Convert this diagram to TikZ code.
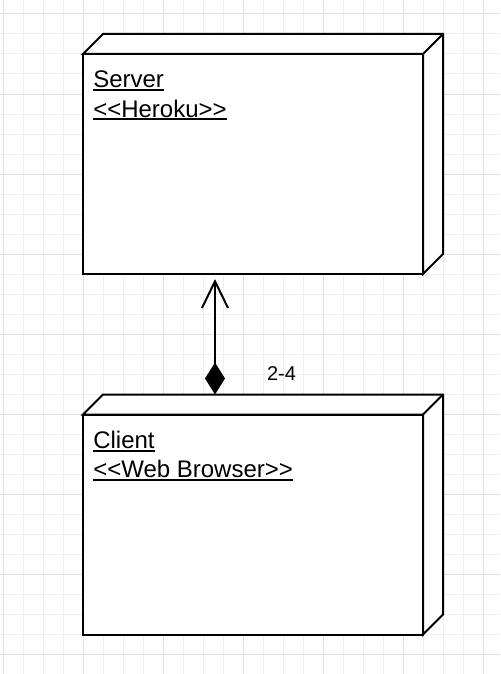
\documentclass[tikz,border=0pt]{standalone}
\usepackage{fontspec}
\setmainfont{Liberation Sans}
\usetikzlibrary{arrows.meta,calc}

\newcommand{\ulword}[1]{\setbox0\hbox{#1}\rlap{\rule[-2.25pt]{\wd0}{1.2pt}}\box0}

\begin{document}
\begin{tikzpicture}[x=0.75pt,y=-0.75pt,
   gridminor/.style={line width=0.75pt,black!6},
   gridmajor/.style={line width=0.75pt,black!12},
   nodeface/.style={draw,fill=white,line width=1.5pt,minimum width=255pt,minimum height=165pt,inner sep=0pt,outer sep=0pt},
   nodeside/.style={draw,fill=white,line width=1.5pt},
   boxtext/.style={anchor=base west,inner sep=0pt,font=\fontsize{18}{21.75}\selectfont},
   conn/.style={line width=1.5pt,arrows={Diamond[length=24pt,width=15pt]-Straight Barb[length=20pt,width=19.5pt]},shorten >=3.75pt}]

   \useasboundingbox (0,0) rectangle (500,674);
   \fill[white] (0,0) rectangle (500,674);

   % background grid
   \foreach \i in {3,23,...,483} \draw[gridminor] (\i,0) -- (\i,674);
   \foreach \j in {14,34,...,674} \draw[gridminor] (0,\j) -- (500,\j);
   \foreach \i in {3,83,...,483} \draw[gridmajor] (\i,0) -- (\i,674);
   \foreach \j in {14,94,...,654} \draw[gridmajor] (0,\j) -- (500,\j);

   % server node
   \node[nodeface] (server) at (253,164) {};
   \draw[nodeside] (server.north west) -- ++(20,-20) -- ($(server.north east)+(20,-20)$)
      -- ($(server.south east)+(20,-20)$) -- (server.south east) -- (server.north east) -- cycle;
   \draw[nodeside] (server.north east) -- ++(20,-20);
   \node[boxtext] (srvname) at ($(server.north west)+(10,34)$) {\ulword{Server}};
   \node[boxtext] (srvkind) at ($(srvname.base west)+(0,29)$) {\ulword{<{}<Heroku>{}>}};

   % client node
   \node[nodeface] (client) at (253,524.5) {};
   \draw[nodeside] (client.north west) -- ++(20,-20) -- ($(client.north east)+(20,-20)$)
      -- ($(client.south east)+(20,-20)$) -- (client.south east) -- (client.north east) -- cycle;
   \draw[nodeside] (client.north east) -- ++(20,-20);
   \node[boxtext] (cltname) at ($(client.north west)+(10,34)$) {\ulword{Client}};
   \node[boxtext] (cltkind) at ($(cltname.base west)+(0,29)$) {\ulword{<{}<Web Browser>{}>}};

   %\draw[red] (client.north) circle (2);
   \coordinate (ctop) at ($(client.north west)+(132,-20)$);
   \draw[conn] (ctop) -- (ctop |- server.south)
      node[pos=0,anchor=base west,xshift=38.25pt,yshift=10.5pt,inner sep=0pt,font=\fontsize{15}{18}\selectfont] (mult) {2-4};
\end{tikzpicture}
\end{document}
